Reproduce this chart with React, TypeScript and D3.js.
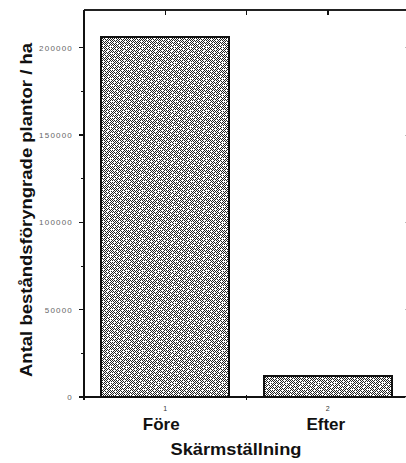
import React from "react";
import * as d3 from "d3";

const categories = ["Före", "Efter"];
const categoryCodes = ["1", "2"];
const values = [206000, 12000];
const yTicks = [0, 50000, 100000, 150000, 200000];
const yMinorTicks = [25000, 75000, 125000, 175000];
const yTitle = "Antal beståndsföryngrade plantor / ha";
const xTitle = "Skärmställning";

const bitmap = [
  "1010001010101000",
  "0101010001010101",
  "1000101010100010",
  "0101010101000101",
  "1010100010101010",
  "0001010101010100",
  "1010101010001010",
  "0100010101010101",
  "1010101000101010",
  "0101010101010001",
  "1000101010101010",
  "0101000101010101",
  "1010101010100010",
  "0101010001010101",
  "0010101010101000",
  "0101010101000101",
];

export default function App() {
  const W = 406, H = 463;
  const left = 84, right = 409, top = 10, bottom = 397;
  const y = d3.scaleLinear().domain([0, 221600]).range([bottom, top]);
  const x = d3.scaleBand<string>().domain(categories).range([left, right]).paddingInner(0.21).paddingOuter(0.105);
  const font = "'Liberation Sans', Arial, sans-serif";
  const dots: JSX.Element[] = [];
  bitmap.forEach((row, r) => row.split("").forEach((c, col) => {
    if (c === "1") dots.push(<rect key={`${r}-${col}`} x={col} y={r} width={1} height={1} fill="#222" />);
  }));
  const n = bitmap.length;
  const centers = categories.map((c) => (x(c) as number) + x.bandwidth() / 2);
  const step = x.step();
  const boundaries = [centers[0] + step / 2];
  return (
    <svg width={W} height={H} style={{ position: "absolute", left: 0, top: 0, background: "#fff" }} shapeRendering="crispEdges">
      <defs>
        <pattern id="stip" width={n} height={n} patternUnits="userSpaceOnUse">
          <rect width={n} height={n} fill="#fff" />
          {dots}
        </pattern>
      </defs>
      <line x1={left} x2={W + 5} y1={top} y2={top} stroke="#222" strokeWidth={2} />
      <line x1={left} x2={left} y1={top} y2={bottom + 3} stroke="#111" strokeWidth={2} />
      {categories.map((c, i) => (
        <rect key={c} x={x(c)} y={y(values[i])} width={x.bandwidth()} height={bottom - y(values[i])}
          fill="url(#stip)" stroke="#111" strokeWidth={2} />
      ))}
      <line x1={left - 4} x2={W + 5} y1={bottom} y2={bottom} stroke="#111" strokeWidth={2} />
      {yTicks.map((t) => (
        <g key={t}>
          <line x1={left - 5} x2={left} y1={y(t)} y2={y(t)} stroke="#111" strokeWidth={1.5} />
          <line x1={W - 1} x2={W + 2} y1={y(t)} y2={y(t)} stroke="#bbb" strokeWidth={1} />
          <text x={73} y={y(t) + 3} textAnchor="end" fontFamily={font} fontSize={8} letterSpacing={1.2} fill="#666">{d3.format("d")(t)}</text>
        </g>
      ))}
      {yMinorTicks.map((t) => (
        <line key={t} x1={left - 3} x2={left} y1={y(t)} y2={y(t)} stroke="#111" strokeWidth={1} />
      ))}
      {centers.map((cx, i) => (
        <line key={i} x1={cx} x2={cx} y1={top} y2={top + 5} stroke="#111" strokeWidth={1.5} />
      ))}
      {boundaries.map((bx, i) => (
        <g key={i}>
          <line x1={bx} x2={bx} y1={top} y2={top + 5} stroke="#111" strokeWidth={1.5} />
          <line x1={bx} x2={bx} y1={bottom - 2} y2={bottom + 3} stroke="#111" strokeWidth={1.5} />
        </g>
      ))}
      {categories.map((c, i) => (
        <g key={c}>
          <text x={centers[i]} y={411} textAnchor="middle" fontFamily={font} fontSize={7} fill="#333">{categoryCodes[i]}</text>
          <text x={centers[i] - (i === 0 ? 4 : 2)} y={430} textAnchor="middle" fontFamily={font} fontWeight="bold" fontSize={17} fill="#111">{c}</text>
        </g>
      ))}
      <text x={236} y={455} textAnchor="middle" fontFamily={font} fontWeight="bold" fontSize={17} fill="#111" textLength={131} lengthAdjust="spacingAndGlyphs">{xTitle}</text>
      <text transform={`translate(32,${(377 + 43) / 2}) rotate(-90)`} textAnchor="middle" fontFamily={font} fontWeight="bold" fontSize={17} fill="#111" textLength={334} lengthAdjust="spacingAndGlyphs">{yTitle}</text>
    </svg>
  );
}
